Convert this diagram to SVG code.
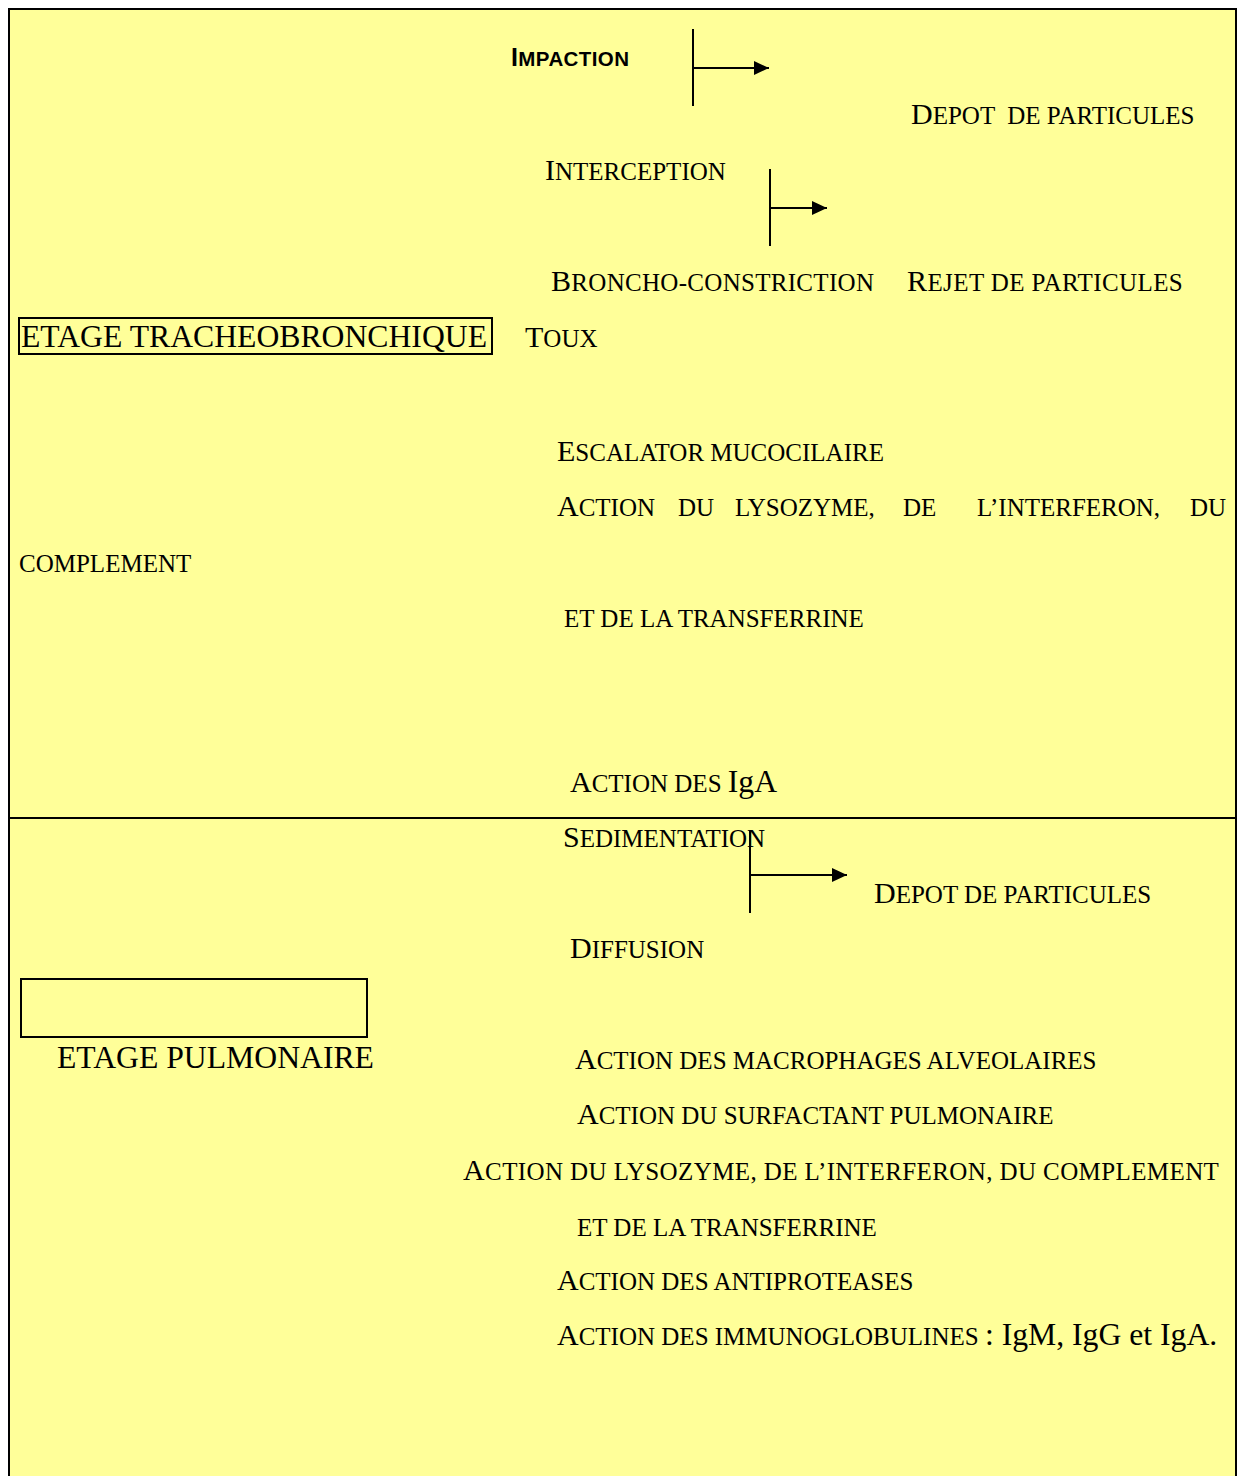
<svg xmlns="http://www.w3.org/2000/svg" width="1239" height="1476" viewBox="0 0 1239 1476">
<style>
.t{font-family:"Liberation Serif","Times New Roman",serif;font-size:30px;fill:#000}
.s{font-size:25px}
.r{font-size:31.7px}
.lab{font-family:"Liberation Serif","Times New Roman",serif;font-size:31.7px;fill:#000}
.a{font-family:"Liberation Sans",Arial,sans-serif;font-weight:bold;font-size:25px;letter-spacing:0.4px;fill:#000}
.as{font-size:20.5px}
.box{fill:none;stroke:#000;stroke-width:2}
.ln{stroke:#000;stroke-width:2;fill:none}
</style>
<defs>
<marker id="ah" markerUnits="userSpaceOnUse" markerWidth="16" markerHeight="16" refX="15" refY="7" orient="auto">
<path d="M0,0 L15,7 L0,14 Z" fill="#000"/>
</marker>
</defs>
<rect x="0" y="0" width="1239" height="1476" fill="#fff"/>
<rect x="9" y="9" width="1227" height="1480" fill="#FFFF99" stroke="#000" stroke-width="2"/>
<line x1="9" y1="818" x2="1236" y2="818" class="ln"/>

<g id="connectors">
<line x1="693" y1="29" x2="693" y2="106" class="ln"/>
<line x1="693" y1="68" x2="769" y2="68" class="ln" marker-end="url(#ah)"/>
<line x1="770" y1="169" x2="770" y2="246" class="ln"/>
<line x1="770" y1="208" x2="827" y2="208" class="ln" marker-end="url(#ah)"/>
<line x1="750" y1="830" x2="750" y2="913" class="ln"/>
<line x1="750" y1="875" x2="847" y2="875" class="ln" marker-end="url(#ah)"/>
</g>

<g id="impaction"><text class="a" x="511" y="66">I<tspan class="as">MPACTION</tspan></text></g>
<g id="depot1"><text class="t" x="911" y="124" style="white-space:pre" xml:space="preserve">D<tspan class="s">EPOT  DE PARTICULES</tspan></text></g>
<g id="interception"><text class="t" x="545" y="180">I<tspan class="s">NTERCEPTION</tspan></text></g>
<g id="broncho"><text class="t" x="551" y="291" letter-spacing="0.3">B<tspan class="s">RONCHO-CONSTRICTION</tspan></text></g>
<g id="rejet"><text class="t" x="907" y="291" letter-spacing="0.4">R<tspan class="s">EJET DE PARTICULES</tspan></text></g>
<g id="etage-tracheo">
<rect class="box" x="19" y="318" width="473" height="36"/>
<text class="lab" x="21" y="347">ETAGE TRACHEOBRONCHIQUE</text>
</g>
<g id="toux"><text class="t" x="525" y="347">T<tspan class="s">OUX</tspan></text></g>
<g id="escalator"><text class="t" x="557" y="461">E<tspan class="s">SCALATOR MUCOCILAIRE</tspan></text></g>
<g id="action-lysozyme-1">
<text class="t" y="516"><tspan x="557">A</tspan><tspan class="s">CTION</tspan><tspan class="s" x="678">DU</tspan><tspan class="s" x="735">LYSOZYME,</tspan><tspan class="s" x="903">DE</tspan><tspan class="s" x="977">L’INTERFERON,</tspan><tspan class="s" x="1190">DU</tspan></text>
<text class="t" x="19" y="572"><tspan class="s">COMPLEMENT</tspan></text>
<text class="t" x="564" y="627"><tspan class="s">ET DE LA TRANSFERRINE</tspan></text>
</g>
<g id="action-iga"><text class="t" x="570" y="792">A<tspan class="s">CTION DES </tspan><tspan class="r">IgA</tspan></text></g>

<g id="sedimentation"><text class="t" x="563" y="847">S<tspan class="s">EDIMENTATION</tspan></text></g>
<g id="depot2"><text class="t" x="874" y="903">D<tspan class="s">EPOT DE PARTICULES</tspan></text></g>
<g id="diffusion"><text class="t" x="570" y="958">D<tspan class="s">IFFUSION</tspan></text></g>
<g id="etage-pulmonaire">
<rect class="box" x="21" y="979" width="346" height="58"/>
<text class="lab" x="57" y="1068">ETAGE PULMONAIRE</text>
</g>
<g id="macrophages"><text class="t" x="575" y="1069">A<tspan class="s">CTION DES MACROPHAGES ALVEOLAIRES</tspan></text></g>
<g id="surfactant"><text class="t" x="577" y="1124">A<tspan class="s">CTION DU SURFACTANT PULMONAIRE</tspan></text></g>
<g id="lysozyme-2">
<text class="t" x="463" y="1180" letter-spacing="0.4">A<tspan class="s">CTION DU LYSOZYME, DE L’INTERFERON, DU COMPLEMENT</tspan></text>
<text class="t" x="577" y="1236"><tspan class="s">ET DE LA TRANSFERRINE</tspan></text>
</g>
<g id="antiproteases"><text class="t" x="557" y="1290">A<tspan class="s">CTION DES ANTIPROTEASES</tspan></text></g>
<g id="immunoglobulines"><text class="t" x="557" y="1345">A<tspan class="s">CTION DES IMMUNOGLOBULINES </tspan><tspan class="r">: IgM, IgG et IgA.</tspan></text></g>
</svg>
